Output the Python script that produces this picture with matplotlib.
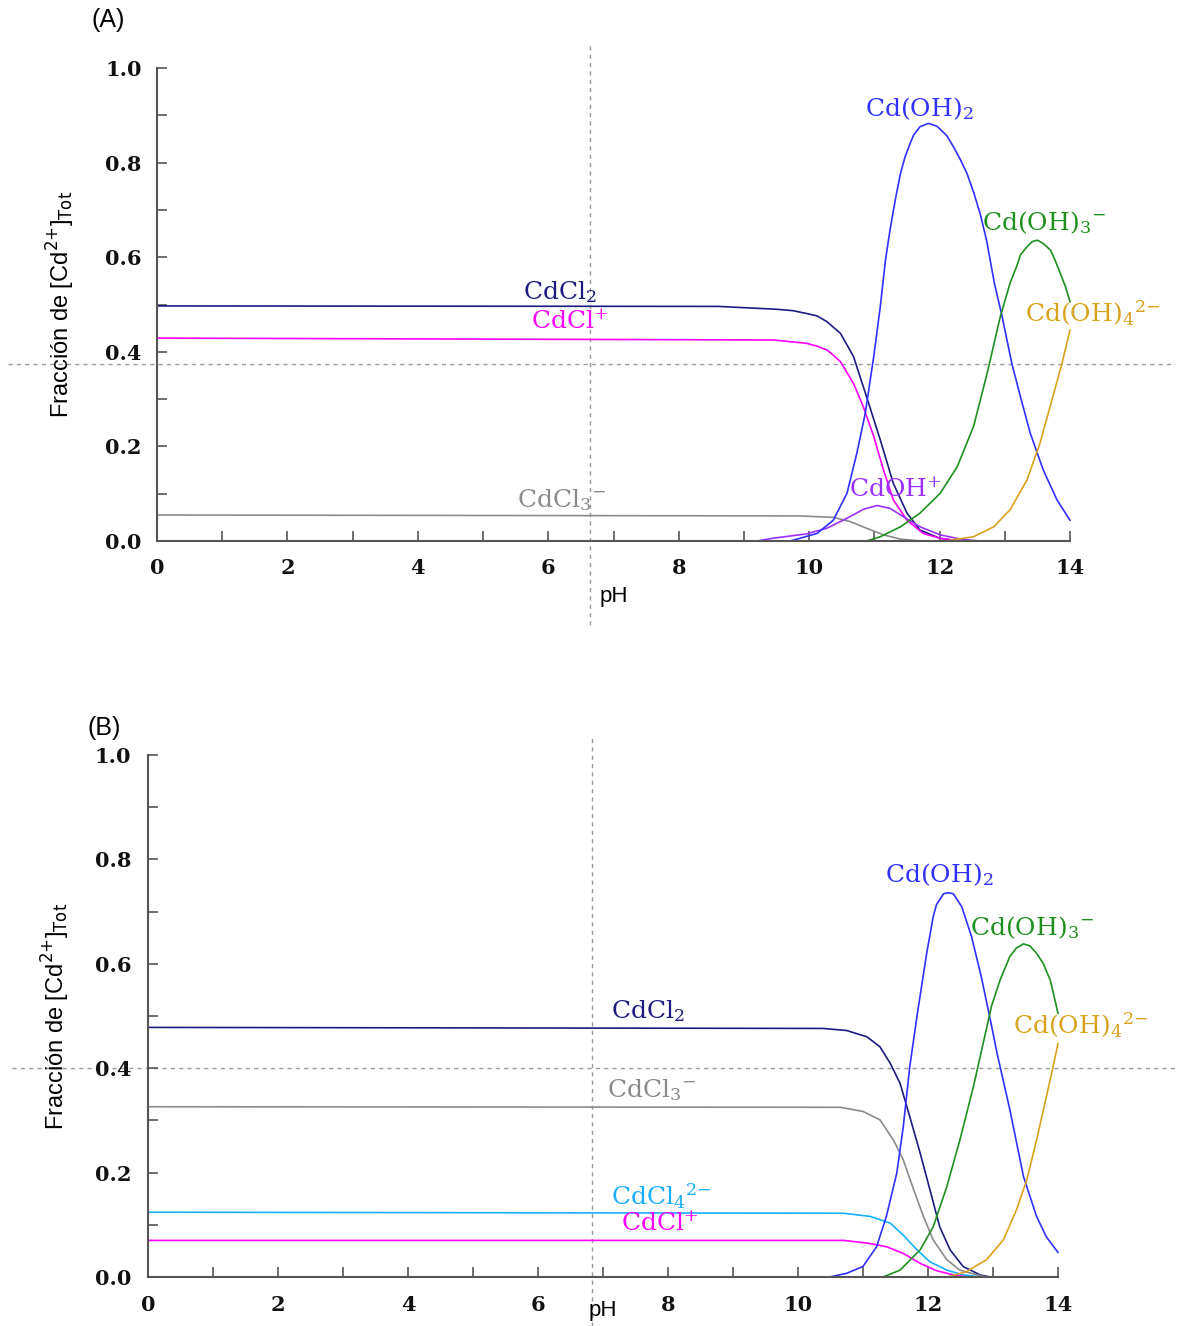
"""Cd(II) species distribution vs pH, two chloride conditions (A) and (B)."""
import matplotlib

matplotlib.use("Agg")
import matplotlib.pyplot as plt
from matplotlib.ticker import MultipleLocator

# ---- panel A -------------------------------------------------------------
A_CDCL2_PH = [0, 8.6, 9.5, 9.75, 9.96, 10.12, 10.27, 10.48, 10.68, 10.88, 11.09, 11.29, 11.5, 11.7, 12.0, 12.3]
A_CDCL2 = [0.497, 0.496, 0.490, 0.487, 0.481, 0.476, 0.464, 0.439, 0.390, 0.305, 0.214, 0.122, 0.059, 0.023, 0.006, 0.0]

A_CDCL_PH = [0, 9.45, 9.96, 10.12, 10.27, 10.37, 10.48, 10.68, 10.83, 10.99, 11.14, 11.29, 11.5, 11.75, 12.0, 12.3]
A_CDCL = [0.429, 0.425, 0.418, 0.412, 0.404, 0.393, 0.379, 0.333, 0.284, 0.221, 0.150, 0.087, 0.044, 0.016, 0.006, 0.0]

A_CDCL3_PH = [0, 9.86, 10.37, 10.63, 10.88, 11.14, 11.4, 11.7]
A_CDCL3 = [0.055, 0.053, 0.050, 0.041, 0.027, 0.013, 0.004, 0.0]

A_CDOH_PH = [9.2, 9.45, 9.96, 10.27, 10.58, 10.83, 11.04, 11.24, 11.45, 11.7, 12.01, 12.32, 12.6]
A_CDOH = [0.0, 0.006, 0.015, 0.027, 0.048, 0.067, 0.075, 0.069, 0.051, 0.030, 0.013, 0.004, 0.0]

A_CDOH2_PH = [9.71, 10.12, 10.37, 10.58, 10.73, 10.86, 10.99, 11.09, 11.17, 11.24, 11.32, 11.40,
              11.47, 11.55, 11.60, 11.70, 11.83, 11.96, 12.11, 12.21, 12.32, 12.42, 12.52, 12.62,
              12.72, 12.84, 12.95, 13.11, 13.24, 13.39, 13.59, 13.80, 14.0]
A_CDOH2 = [0.0, 0.016, 0.044, 0.101, 0.185, 0.270, 0.390, 0.495, 0.594, 0.658, 0.721, 0.777,
           0.812, 0.841, 0.858, 0.876, 0.883, 0.877, 0.857, 0.834, 0.806, 0.777, 0.738, 0.693,
           0.636, 0.545, 0.480, 0.374, 0.305, 0.228, 0.150, 0.087, 0.044]

A_CDOH3_PH = [10.88, 11.09, 11.40, 11.70, 12.01, 12.27, 12.52, 12.73, 12.93, 13.08, 13.18, 13.24,
              13.34, 13.42, 13.50, 13.59, 13.70, 13.77, 13.85, 13.93, 14.0]
A_CDOH3 = [0.0, 0.009, 0.030, 0.059, 0.101, 0.157, 0.242, 0.355, 0.474, 0.545, 0.580, 0.605,
           0.622, 0.633, 0.636, 0.629, 0.615, 0.594, 0.566, 0.538, 0.506]

A_CDOH4_PH = [12.1, 12.27, 12.52, 12.83, 13.08, 13.34, 13.54, 13.75, 13.87, 14.0]
A_CDOH4 = [0.0, 0.004, 0.009, 0.030, 0.066, 0.129, 0.207, 0.312, 0.372, 0.446]

# ---- panel B -------------------------------------------------------------
B_CDCL2_PH = [0, 10.39, 10.75, 11.06, 11.26, 11.42, 11.57, 11.72, 11.88, 12.03, 12.18, 12.34, 12.54, 12.80, 12.95]
B_CDCL2 = [0.478, 0.476, 0.472, 0.460, 0.441, 0.409, 0.371, 0.307, 0.237, 0.167, 0.096, 0.052, 0.020, 0.004, 0.0]

B_CDCL3_PH = [0, 10.65, 11.0, 11.26, 11.47, 11.62, 11.78, 11.93, 12.08, 12.29, 12.49, 12.75, 12.9]
B_CDCL3 = [0.326, 0.325, 0.317, 0.301, 0.262, 0.224, 0.167, 0.116, 0.071, 0.033, 0.013, 0.004, 0.0]

B_CDCL4_PH = [0, 10.70, 11.11, 11.42, 11.62, 11.83, 12.03, 12.29, 12.54, 12.8]
B_CDCL4 = [0.124, 0.122, 0.116, 0.103, 0.080, 0.052, 0.029, 0.013, 0.004, 0.0]

B_CDCL_PH = [0, 10.70, 11.06, 11.36, 11.62, 11.88, 12.13, 12.39, 12.6]
B_CDCL = [0.070, 0.070, 0.065, 0.058, 0.045, 0.026, 0.012, 0.004, 0.0]

B_CDOH2_PH = [10.49, 10.75, 11.0, 11.21, 11.36, 11.52, 11.62, 11.72, 11.83, 11.98, 12.08, 12.13,
              12.24, 12.31, 12.39, 12.52, 12.67, 12.82, 12.98, 13.06, 13.26, 13.47, 13.67, 13.82, 14.0]
B_CDOH2 = [0.0, 0.007, 0.020, 0.058, 0.116, 0.199, 0.288, 0.403, 0.499, 0.620, 0.690, 0.713,
           0.734, 0.736, 0.734, 0.709, 0.652, 0.575, 0.480, 0.430, 0.320, 0.192, 0.116, 0.077, 0.047]

B_CDOH3_PH = [11.31, 11.57, 11.88, 12.08, 12.29, 12.49, 12.70, 12.85, 12.98, 13.11, 13.26, 13.36,
              13.47, 13.57, 13.67, 13.77, 13.88, 13.93, 14.0]
B_CDOH3 = [0.0, 0.013, 0.052, 0.096, 0.173, 0.262, 0.365, 0.448, 0.520, 0.569, 0.614, 0.630,
           0.638, 0.634, 0.620, 0.601, 0.569, 0.543, 0.505]

B_CDOH4_PH = [12.3, 12.59, 12.90, 13.16, 13.36, 13.52, 13.67, 13.83, 13.92, 14.0]
B_CDOH4 = [0.0, 0.010, 0.033, 0.071, 0.128, 0.186, 0.262, 0.350, 0.400, 0.447]

COLORS = {
    "CdCl2": "#1c1c80",
    "CdCl+": "#ff00ff",
    "CdCl3-": "#8a8a8a",
    "CdCl4 2-": "#1aaeff",
    "CdOH+": "#9b30ff",
    "Cd(OH)2": "#3030ff",
    "Cd(OH)3-": "#1f8f1f",
    "Cd(OH)4 2-": "#d9a21b",
}

LABELS = {
    "CdCl2": r"$\mathrm{CdCl_2}$",
    "CdCl+": r"$\mathrm{CdCl^{{+}}}$",
    "CdCl3-": r"$\mathrm{CdCl_3{}^{{-}}}$",
    "CdCl4 2-": r"$\mathrm{CdCl_4{}^{2{-}}}$",
    "CdOH+": r"$\mathrm{CdOH^{{+}}}$",
    "Cd(OH)2": r"$\mathrm{Cd(OH)_2}$",
    "Cd(OH)3-": r"$\mathrm{Cd(OH)_3{}^{{-}}}$",
    "Cd(OH)4 2-": r"$\mathrm{Cd(OH)_4{}^{2{-}}}$",
}

SERIF = "DejaVu Serif"
SANS = "Liberation Sans"


def _style(ax, xtick_pad, ytick_pad):
    ax.set_xlim(0, 14)
    ax.set_ylim(0, 1)
    for side in ("top", "right"):
        ax.spines[side].set_visible(False)
    for side in ("left", "bottom"):
        ax.spines[side].set_color("#555555")
        ax.spines[side].set_linewidth(1.5)
    ax.xaxis.set_major_locator(MultipleLocator(2))
    ax.xaxis.set_minor_locator(MultipleLocator(1))
    ax.yaxis.set_major_locator(MultipleLocator(0.2))
    ax.yaxis.set_minor_locator(MultipleLocator(0.1))
    ax.xaxis.set_major_formatter(plt.FuncFormatter(lambda v, _: f"{v:.0f}"))
    ax.yaxis.set_major_formatter(plt.FuncFormatter(lambda v, _: f"{v:.1f}"))
    ax.tick_params(which="both", direction="in", length=7, width=1.2, color="#555555")
    ax.tick_params(axis="x", pad=xtick_pad)
    ax.tick_params(axis="y", pad=ytick_pad)
    for lab in ax.get_xticklabels() + ax.get_yticklabels():
        lab.set_fontfamily(SERIF)
        lab.set_fontsize(15)
        lab.set_fontweight("bold")
        lab.set_color("#111111")
    ax.set_ylabel(r"Fracción de [Cd$^{2{+}}$]$_{\mathrm{Tot}}$", fontfamily=SANS,
                  fontsize=17, math_fontfamily="dejavusans")
    ax.set_xlabel("pH", fontfamily=SANS, fontsize=16)


def _curve(ax, ph, frac, key):
    ax.plot(ph, frac, color=COLORS[key], lw=1.2, clip_on=False, solid_joinstyle="round")


def _label(ax, x, y, key):
    ax.text(x, y, LABELS[key], color=COLORS[key], fontsize=18, ha="left", va="center",
            math_fontfamily="dejavuserif", clip_on=False)


def _crosshair(ax, x, y, xspan, yspan):
    kw = dict(color="#9a9a9a", lw=1.0, ls=(0, (3, 3)), clip_on=False, zorder=0)
    ax.axvline(x, ymin=yspan[0], ymax=yspan[1], **kw)
    ax.axhline(y, xmin=xspan[0], xmax=xspan[1], **kw)


def make_figure():
    fig = plt.figure(figsize=(11.8, 13.26), dpi=100)

    ax = fig.add_axes([0.1331, 0.5920, 0.7737, 0.3567])
    _style(ax, xtick_pad=12, ytick_pad=11)
    _crosshair(ax, 6.64, 0.374, (-0.163, 1.115), (-0.178, 1.049))
    _curve(ax, A_CDCL2_PH, A_CDCL2, "CdCl2")
    _curve(ax, A_CDCL_PH, A_CDCL, "CdCl+")
    _curve(ax, A_CDCL3_PH, A_CDCL3, "CdCl3-")
    _curve(ax, A_CDOH_PH, A_CDOH, "CdOH+")
    _curve(ax, A_CDOH2_PH, A_CDOH2, "Cd(OH)2")
    _curve(ax, A_CDOH3_PH, A_CDOH3, "Cd(OH)3-")
    _curve(ax, A_CDOH4_PH, A_CDOH4, "Cd(OH)4 2-")
    _label(ax, 5.61, 0.526, "CdCl2")
    _label(ax, 5.74, 0.463, "CdCl+")
    _label(ax, 5.52, 0.087, "CdCl3-")
    _label(ax, 10.61, 0.108, "CdOH+")
    _label(ax, 10.85, 0.915, "Cd(OH)2")
    _label(ax, 12.65, 0.674, "Cd(OH)3-")
    _label(ax, 13.31, 0.482, "Cd(OH)4 2-")
    ax.xaxis.set_label_coords(0.5, -0.095)
    ax.yaxis.set_label_coords(-0.088, 0.5)
    fig.text(108 / 1180, 1 - 20 / 1326, "(A)", fontfamily=SANS, fontsize=18,
             ha="center", va="center")

    ax = fig.add_axes([0.1254, 0.0370, 0.7712, 0.3937])
    _style(ax, xtick_pad=13, ytick_pad=12)
    _crosshair(ax, 6.83, 0.40, (-0.149, 1.129), (-0.094, 1.038))
    _curve(ax, B_CDCL2_PH, B_CDCL2, "CdCl2")
    _curve(ax, B_CDCL3_PH, B_CDCL3, "CdCl3-")
    _curve(ax, B_CDCL4_PH, B_CDCL4, "CdCl4 2-")
    _curve(ax, B_CDCL_PH, B_CDCL, "CdCl+")
    _curve(ax, B_CDOH2_PH, B_CDOH2, "Cd(OH)2")
    _curve(ax, B_CDOH3_PH, B_CDOH3, "Cd(OH)3-")
    _curve(ax, B_CDOH4_PH, B_CDOH4, "Cd(OH)4 2-")
    _label(ax, 7.12, 0.510, "CdCl2")
    _label(ax, 7.06, 0.358, "CdCl3-")
    _label(ax, 7.12, 0.155, "CdCl4 2-")
    _label(ax, 7.28, 0.102, "CdCl+")
    _label(ax, 11.34, 0.770, "Cd(OH)2")
    _label(ax, 12.65, 0.670, "Cd(OH)3-")
    _label(ax, 13.31, 0.483, "Cd(OH)4 2-")
    ax.xaxis.set_label_coords(0.5, -0.044)
    ax.yaxis.set_label_coords(-0.084, 0.5)
    fig.text(104 / 1180, 1 - 728 / 1326, "(B)", fontfamily=SANS, fontsize=18,
             ha="center", va="center")

    fig.savefig("out.png", dpi=100)
    plt.close(fig)


if __name__ == "__main__":
    make_figure()
